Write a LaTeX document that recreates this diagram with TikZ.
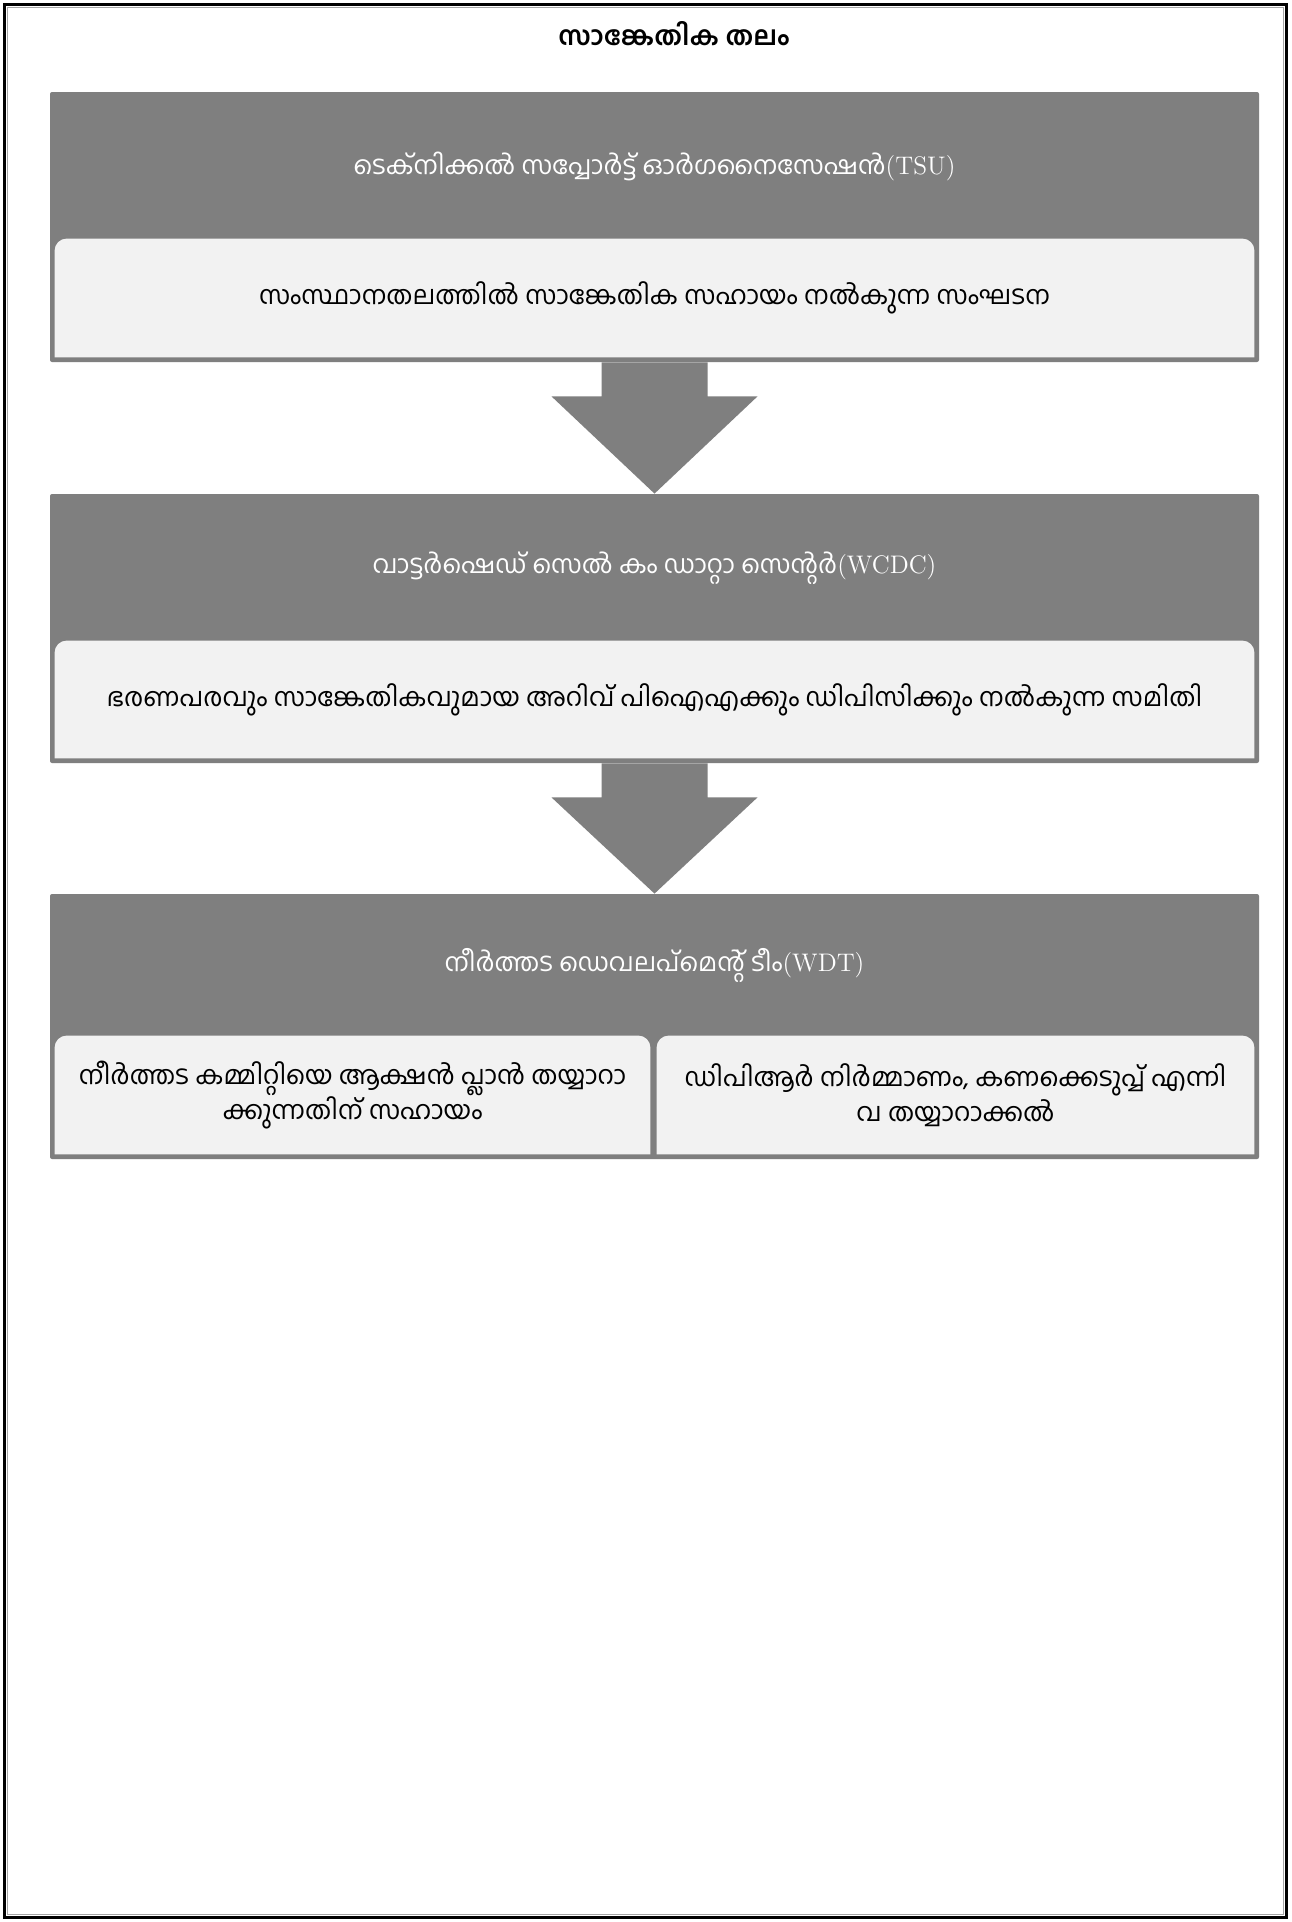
\documentclass[tikz,border=0pt]{standalone}
\usepackage{fontspec}
\newfontfamily\ml[Script=Malayalam]{Hind Kochi}
\usetikzlibrary{calc}
\definecolor{boxgray}{RGB}{127,127,127}
\definecolor{inlight}{RGB}{242,242,242}
\tikzset{
  outerbox/.style={fill=boxgray, draw=none, inner sep=0pt, rounded corners=1pt},
  headtxt/.style={text=white, font=\fontsize{12.7}{15}\selectfont, inner sep=0pt},
  bodytxt/.style={text=black, font=\fontsize{12.9}{17.5}\selectfont, inner sep=0pt, align=center},
  innerbox/.style={inner sep=0pt},
  flowarrow/.style={fill=boxgray, draw=none},
}
\begin{document}
\begin{tikzpicture}[x=0.5pt,y=-0.5pt]
\useasboundingbox (0,0) rectangle (1291,1922);
\fill[white] (0,0) rectangle (1291,1922);
% frame
\draw[black, line width=1.75pt] (4.5,4.5) rectangle (1286.5,1917.5);
\draw[boxgray!70, line width=0.75pt] (7.5,7.5) rectangle (1283.5,1914.5);

\node[font=\fontsize{13.2}{15}\selectfont\bfseries, inner sep=0pt] (title) at (674,34) {\ml സാങ്കേതിക തലം};

% box 1
\node[outerbox, minimum width=604.5pt, minimum height=135pt] (b1) at (654.5,227) {};
\node[headtxt] (h1) at (654.5,166) {{\ml ടെക്നിക്കൽ സപ്പോർട്ട് ഓർഗനൈസേഷൻ}(TSU)};
\node[innerbox, minimum width=599.5pt, minimum height=59pt] (i1) at (654.5,298) {};
\fill[inlight] (i1.south west) [rounded corners=6pt] -- (i1.north west) -- (i1.north east) [sharp corners] -- (i1.south east) -- cycle;
\node[bodytxt] (t1) at (i1.center) {\ml സംസ്ഥാനതലത്തിൽ സാങ്കേതിക സഹായം നൽകുന്ന സംഘടന};

% box 2
\node[outerbox, minimum width=604.5pt, minimum height=134.5pt] (b2) at (654.5,628.5) {};
\node[headtxt] (h2) at (654.5,568) {{\ml വാട്ടർഷെഡ് സെൽ കം ഡാറ്റാ സെന്റർ}(WCDC)};
\node[innerbox, minimum width=599.5pt, minimum height=58.5pt] (i2) at (654.5,699.5) {};
\fill[inlight] (i2.south west) [rounded corners=6pt] -- (i2.north west) -- (i2.north east) [sharp corners] -- (i2.south east) -- cycle;
\node[bodytxt] (t2) at (i2.center) {\ml ഭരണപരവും സാങ്കേതികവുമായ അറിവ് പിഐഎക്കും ഡിപിസിക്കും നൽകുന്ന സമിതി};

% arrows
\fill[flowarrow] ($(b1.south)+(-53,0)$) -- ($(b1.south)+(53,0)$) -- ($(b1.south)+(53,34)$) -- ($(b1.south)+(103,34)$) -- (b2.north) -- ($(b1.south)+(-103,34)$) -- ($(b1.south)+(-53,34)$) -- cycle;

% box 3
\node[outerbox, minimum width=604.5pt, minimum height=132.5pt] (b3) at (654.5,1026.5) {};
\fill[flowarrow] ($(b2.south)+(-53,0)$) -- ($(b2.south)+(53,0)$) -- ($(b2.south)+(53,34)$) -- ($(b2.south)+(103,34)$) -- (b3.north) -- ($(b2.south)+(-103,34)$) -- ($(b2.south)+(-53,34)$) -- cycle;
\node[headtxt] (h3) at (654.5,965) {{\ml നീർത്തട ഡെവലപ്മെന്റ് ടീം}(WDT)};
\node[innerbox, minimum width=297.5pt, minimum height=59pt] (i3) at (352.5,1095) {};
\fill[inlight] (i3.south west) [rounded corners=6pt] -- (i3.north west) -- (i3.north east) [sharp corners] -- (i3.south east) -- cycle;
\node[innerbox, minimum width=298.5pt, minimum height=59pt] (i4) at (955.5,1095) {};
\fill[inlight] (i4.south west) [rounded corners=6pt] -- (i4.north west) -- (i4.north east) [sharp corners] -- (i4.south east) -- cycle;
\node[bodytxt] (t3) at (i3.center) {\ml നീർത്തട കമ്മിറ്റിയെ ആക്ഷൻ പ്ലാൻ തയ്യാറാ\\\ml ക്കുന്നതിന് സഹായം};
\node[bodytxt] (t4) at (i4.center) {\ml ഡിപിആർ നിർമ്മാണം, കണക്കെടുപ്പ് എന്നി\\\ml വ തയ്യാറാക്കൽ};
\end{tikzpicture}
\end{document}
